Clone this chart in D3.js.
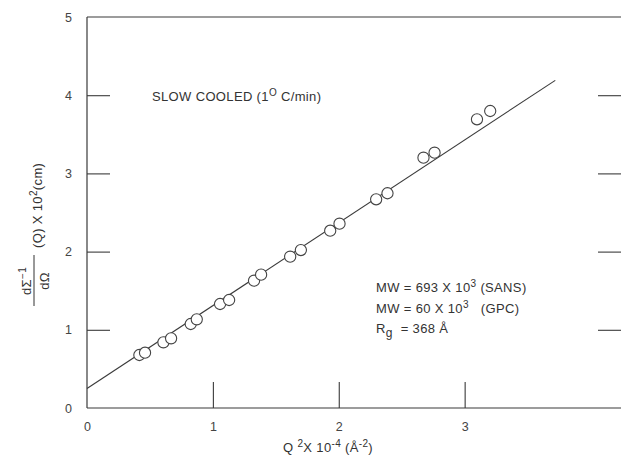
<!DOCTYPE html>
<html><head><meta charset="utf-8">
<script src="https://cdn.jsdelivr.net/npm/d3@7"></script>
<style>
body{margin:0;background:#fff;}
svg{display:block;font-family:"Liberation Sans",Arial,Helvetica,sans-serif;}
</style></head>
<body>
<script>
// Data
const q2 = [0.416,0.461,0.607,0.668,0.824,0.872,1.057,1.129,1.327,1.383,1.614,1.699,1.932,2.006,2.297,2.387,2.673,2.761,3.098,3.203];
const invI = [0.678,0.707,0.840,0.891,1.074,1.134,1.330,1.381,1.628,1.705,1.935,2.020,2.267,2.357,2.669,2.746,3.201,3.265,3.692,3.798];
const fitX = [0, 3.72];
const fitY = [0.25, 4.19];
const xTicks = [0,1,2,3];
const yTicks = [0,1,2,3,4,5];
const innerTicks = [1,2,3,4];

const W = 621, H = 461;
const ink = "#3a3a3a";
const svg = d3.select("body").append("svg").attr("width", W).attr("height", H);

const x = d3.scaleLinear().domain([0, 4.25]).range([87, 622]);
const y = d3.scaleLinear().domain([0, 5]).range([408, 17]);

// frame lines
svg.append("line").attr("x1", x(0)).attr("x2", x(0)).attr("y1", y(0)).attr("y2", y(5)).attr("stroke", ink).attr("stroke-width", 1.2);
svg.append("line").attr("x1", x(0)).attr("x2", W).attr("y1", y(0)).attr("y2", y(0)).attr("stroke", ink).attr("stroke-width", 1.2);
svg.append("line").attr("x1", x(0)).attr("x2", W).attr("y1", y(5)).attr("y2", y(5)).attr("stroke", ink).attr("stroke-width", 1.2);

// left axis
const gy = svg.append("g").attr("transform", `translate(${x(0)},0)`)
  .call(d3.axisLeft(y).tickValues(yTicks).tickSize(-23).tickPadding(15).tickFormat(d3.format("d")));
gy.select(".domain").remove();
gy.selectAll(".tick line").attr("stroke", ink).attr("stroke-width", 1.1)
  .filter(d => d === 0 || d === 5).remove();
gy.selectAll(".tick text").attr("fill", "#444").attr("font-size", 12.5)
  .attr("font-family", "Liberation Sans, Arial, sans-serif");

// right axis ticks (axis itself is off-page)
const gr = svg.append("g").attr("transform", `translate(${x(4.25)},0)`)
  .call(d3.axisRight(y).tickValues(innerTicks).tickSize(-24).tickFormat(""));
gr.select(".domain").remove();
gr.selectAll(".tick line").attr("stroke", ink).attr("stroke-width", 1.1);

// bottom axis
const gx = svg.append("g").attr("transform", `translate(0,${y(0)})`)
  .call(d3.axisBottom(x).tickValues(xTicks).tickSize(-26).tickPadding(14).tickFormat(d3.format("d")));
gx.select(".domain").remove();
gx.selectAll(".tick line").attr("stroke", ink).attr("stroke-width", 1.1)
  .filter(d => d === 0).remove();
gx.selectAll(".tick text").attr("fill", "#444").attr("font-size", 12.5)
  .attr("font-family", "Liberation Sans, Arial, sans-serif");

// fit line
svg.append("line")
  .attr("x1", x(fitX[0])).attr("y1", y(fitY[0]))
  .attr("x2", x(fitX[1])).attr("y2", y(fitY[1]))
  .attr("stroke", ink).attr("stroke-width", 1.1);

// data points
svg.append("g").selectAll("circle").data(q2.map((v,i)=>[v, invI[i]])).join("circle")
  .attr("cx", d => x(d[0])).attr("cy", d => y(d[1])).attr("r", 5.6)
  .attr("fill", "#fff").attr("stroke", "#444").attr("stroke-width", 1.1);

// annotation texts
const fs = 13;
const sup = 10;
const ls = "0.35px";
const t1 = svg.append("text").attr("x", 152).attr("y", 101).attr("font-size", fs).attr("fill", "#333").attr("letter-spacing", ls);
t1.append("tspan").text("SLOW COOLED (1");
t1.append("tspan").attr("font-size", sup).attr("dy", -5).text("O");
t1.append("tspan").attr("dy", 5).text(" C/min)");

const m1 = svg.append("text").attr("x", 376).attr("y", 292).attr("font-size", fs).attr("fill", "#333").attr("letter-spacing", ls);
m1.append("tspan").text("MW = 693 X 10");
m1.append("tspan").attr("font-size", sup).attr("dy", -5).text("3");
m1.append("tspan").attr("dy", 5).text("  (SANS)");

const m2 = svg.append("text").attr("x", 376).attr("y", 313).attr("font-size", fs).attr("fill", "#333").attr("letter-spacing", ls);
m2.append("tspan").text("MW = 60 X 10");
m2.append("tspan").attr("font-size", sup).attr("dy", -5).text("3");
m2.append("tspan").attr("dy", 5).text("\u00a0\u00a0\u00a0(GPC)");

const m3 = svg.append("text").attr("x", 376).attr("y", 333).attr("font-size", fs).attr("fill", "#333").attr("letter-spacing", ls);
m3.append("tspan").text("R");
m3.append("tspan").attr("font-size", 12).attr("dy", 4).text("g");
m3.append("tspan").attr("dy", -4).text("\u00a0\u00a0= 368 Å");

// x axis label
const xl = svg.append("text").attr("x", 328).attr("y", 452).attr("text-anchor", "middle").attr("font-size", fs).attr("fill", "#333").attr("letter-spacing", ls);
xl.append("tspan").text("Q ");
xl.append("tspan").attr("font-size", sup).attr("dy", -5).text("2");
xl.append("tspan").attr("dy", 5).text("X 10");
xl.append("tspan").attr("font-size", sup).attr("dy", -5).text("-4");
xl.append("tspan").attr("dy", 5).text(" (Å");
xl.append("tspan").attr("font-size", sup).attr("dy", -5).text("-2");
xl.append("tspan").attr("dy", 5).text(")");

// y axis label (rotated)
const yl = svg.append("g").attr("transform", "rotate(-90)").attr("fill", "#333");
const num = yl.append("text").attr("x", -281).attr("y", 31).attr("text-anchor", "middle").attr("font-size", fs).attr("letter-spacing", ls);
num.append("tspan").text("dΣ");
num.append("tspan").attr("font-size", sup).attr("dy", -5).text("−1");
yl.append("line").attr("x1", -306).attr("x2", -255).attr("y1", 34).attr("y2", 34).attr("stroke", "#333").attr("stroke-width", 1);
yl.append("text").attr("x", -281).attr("y", 49).attr("text-anchor", "middle").attr("font-size", fs).attr("letter-spacing", ls).text("dΩ");
const rest = yl.append("text").attr("x", -248).attr("y", 42).attr("font-size", fs).attr("letter-spacing", ls);
rest.append("tspan").text("(Q) X 10");
rest.append("tspan").attr("font-size", sup).attr("dy", -5).text("2");
rest.append("tspan").attr("dy", 5).text("(cm)");
</script>
</body></html>
